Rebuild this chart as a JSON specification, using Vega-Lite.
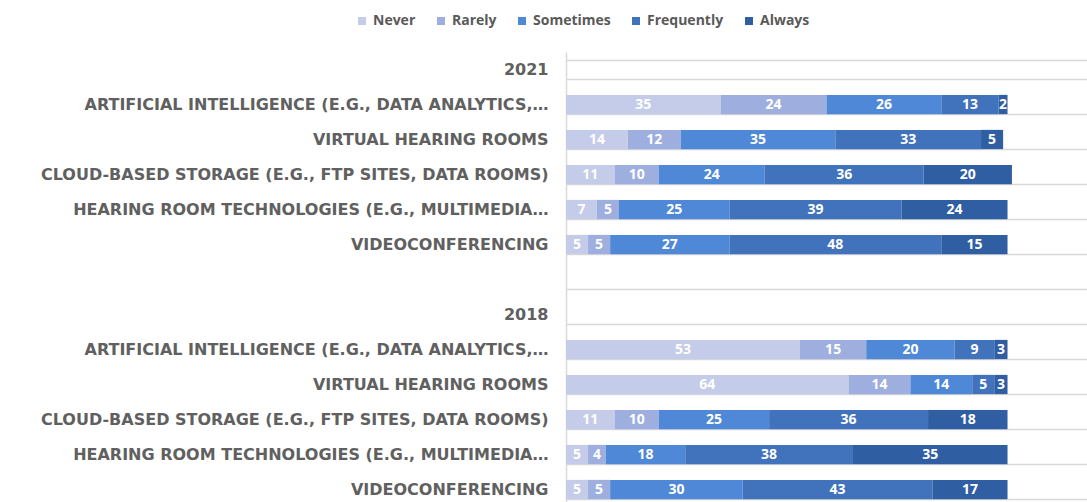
{
  "$schema": "https://vega.github.io/schema/vega-lite/v6.json",
  "width": 521,
  "height": 455,
  "autosize": {"type": "none"},
  "padding": {"left": 566, "top": 52, "right": 0, "bottom": 0},
  "background": "white",
  "config": {"view": {"stroke": null}},
  "datasets": {
    "levels": [
      {"level": "Never", "rank": 1},
      {"level": "Rarely", "rank": 2},
      {"level": "Sometimes", "rank": 3},
      {"level": "Frequently", "rank": 4},
      {"level": "Always", "rank": 5}
    ]
  },
  "data": {"values": [
    {"row": "21|ARTIFICIAL INTELLIGENCE (E.G., DATA ANALYTICS,…", "level": "Never", "v": 35},
    {"row": "21|ARTIFICIAL INTELLIGENCE (E.G., DATA ANALYTICS,…", "level": "Rarely", "v": 24},
    {"row": "21|ARTIFICIAL INTELLIGENCE (E.G., DATA ANALYTICS,…", "level": "Sometimes", "v": 26},
    {"row": "21|ARTIFICIAL INTELLIGENCE (E.G., DATA ANALYTICS,…", "level": "Frequently", "v": 13},
    {"row": "21|ARTIFICIAL INTELLIGENCE (E.G., DATA ANALYTICS,…", "level": "Always", "v": 2},
    {"row": "21|VIRTUAL HEARING ROOMS", "level": "Never", "v": 14},
    {"row": "21|VIRTUAL HEARING ROOMS", "level": "Rarely", "v": 12},
    {"row": "21|VIRTUAL HEARING ROOMS", "level": "Sometimes", "v": 35},
    {"row": "21|VIRTUAL HEARING ROOMS", "level": "Frequently", "v": 33},
    {"row": "21|VIRTUAL HEARING ROOMS", "level": "Always", "v": 5},
    {"row": "21|CLOUD-BASED STORAGE (E.G., FTP SITES, DATA ROOMS)", "level": "Never", "v": 11},
    {"row": "21|CLOUD-BASED STORAGE (E.G., FTP SITES, DATA ROOMS)", "level": "Rarely", "v": 10},
    {"row": "21|CLOUD-BASED STORAGE (E.G., FTP SITES, DATA ROOMS)", "level": "Sometimes", "v": 24},
    {"row": "21|CLOUD-BASED STORAGE (E.G., FTP SITES, DATA ROOMS)", "level": "Frequently", "v": 36},
    {"row": "21|CLOUD-BASED STORAGE (E.G., FTP SITES, DATA ROOMS)", "level": "Always", "v": 20},
    {"row": "21|HEARING ROOM TECHNOLOGIES (E.G., MULTIMEDIA…", "level": "Never", "v": 7},
    {"row": "21|HEARING ROOM TECHNOLOGIES (E.G., MULTIMEDIA…", "level": "Rarely", "v": 5},
    {"row": "21|HEARING ROOM TECHNOLOGIES (E.G., MULTIMEDIA…", "level": "Sometimes", "v": 25},
    {"row": "21|HEARING ROOM TECHNOLOGIES (E.G., MULTIMEDIA…", "level": "Frequently", "v": 39},
    {"row": "21|HEARING ROOM TECHNOLOGIES (E.G., MULTIMEDIA…", "level": "Always", "v": 24},
    {"row": "21|VIDEOCONFERENCING", "level": "Never", "v": 5},
    {"row": "21|VIDEOCONFERENCING", "level": "Rarely", "v": 5},
    {"row": "21|VIDEOCONFERENCING", "level": "Sometimes", "v": 27},
    {"row": "21|VIDEOCONFERENCING", "level": "Frequently", "v": 48},
    {"row": "21|VIDEOCONFERENCING", "level": "Always", "v": 15},
    {"row": "18|ARTIFICIAL INTELLIGENCE (E.G., DATA ANALYTICS,…", "level": "Never", "v": 53},
    {"row": "18|ARTIFICIAL INTELLIGENCE (E.G., DATA ANALYTICS,…", "level": "Rarely", "v": 15},
    {"row": "18|ARTIFICIAL INTELLIGENCE (E.G., DATA ANALYTICS,…", "level": "Sometimes", "v": 20},
    {"row": "18|ARTIFICIAL INTELLIGENCE (E.G., DATA ANALYTICS,…", "level": "Frequently", "v": 9},
    {"row": "18|ARTIFICIAL INTELLIGENCE (E.G., DATA ANALYTICS,…", "level": "Always", "v": 3},
    {"row": "18|VIRTUAL HEARING ROOMS", "level": "Never", "v": 64},
    {"row": "18|VIRTUAL HEARING ROOMS", "level": "Rarely", "v": 14},
    {"row": "18|VIRTUAL HEARING ROOMS", "level": "Sometimes", "v": 14},
    {"row": "18|VIRTUAL HEARING ROOMS", "level": "Frequently", "v": 5},
    {"row": "18|VIRTUAL HEARING ROOMS", "level": "Always", "v": 3},
    {"row": "18|CLOUD-BASED STORAGE (E.G., FTP SITES, DATA ROOMS)", "level": "Never", "v": 11},
    {"row": "18|CLOUD-BASED STORAGE (E.G., FTP SITES, DATA ROOMS)", "level": "Rarely", "v": 10},
    {"row": "18|CLOUD-BASED STORAGE (E.G., FTP SITES, DATA ROOMS)", "level": "Sometimes", "v": 25},
    {"row": "18|CLOUD-BASED STORAGE (E.G., FTP SITES, DATA ROOMS)", "level": "Frequently", "v": 36},
    {"row": "18|CLOUD-BASED STORAGE (E.G., FTP SITES, DATA ROOMS)", "level": "Always", "v": 18},
    {"row": "18|HEARING ROOM TECHNOLOGIES (E.G., MULTIMEDIA…", "level": "Never", "v": 5},
    {"row": "18|HEARING ROOM TECHNOLOGIES (E.G., MULTIMEDIA…", "level": "Rarely", "v": 4},
    {"row": "18|HEARING ROOM TECHNOLOGIES (E.G., MULTIMEDIA…", "level": "Sometimes", "v": 18},
    {"row": "18|HEARING ROOM TECHNOLOGIES (E.G., MULTIMEDIA…", "level": "Frequently", "v": 38},
    {"row": "18|HEARING ROOM TECHNOLOGIES (E.G., MULTIMEDIA…", "level": "Always", "v": 35},
    {"row": "18|VIDEOCONFERENCING", "level": "Never", "v": 5},
    {"row": "18|VIDEOCONFERENCING", "level": "Rarely", "v": 5},
    {"row": "18|VIDEOCONFERENCING", "level": "Sometimes", "v": 30},
    {"row": "18|VIDEOCONFERENCING", "level": "Frequently", "v": 43},
    {"row": "18|VIDEOCONFERENCING", "level": "Always", "v": 17}
  ]},
  "transform": [
    {"lookup": "level", "from": {"data": {"name": "levels"}, "key": "level", "fields": ["rank"]}}
  ],
  "encoding": {
    "y": {
      "field": "row", "type": "nominal",
      "scale": {
        "domain": [
          "2021",
          "21|ARTIFICIAL INTELLIGENCE (E.G., DATA ANALYTICS,…",
          "21|VIRTUAL HEARING ROOMS",
          "21|CLOUD-BASED STORAGE (E.G., FTP SITES, DATA ROOMS)",
          "21|HEARING ROOM TECHNOLOGIES (E.G., MULTIMEDIA…",
          "21|VIDEOCONFERENCING",
          "gap",
          "2018",
          "18|ARTIFICIAL INTELLIGENCE (E.G., DATA ANALYTICS,…",
          "18|VIRTUAL HEARING ROOMS",
          "18|CLOUD-BASED STORAGE (E.G., FTP SITES, DATA ROOMS)",
          "18|HEARING ROOM TECHNOLOGIES (E.G., MULTIMEDIA…",
          "18|VIDEOCONFERENCING"
        ],
        "paddingInner": 0.45, "paddingOuter": 0.225
      },
      "axis": {
        "title": null,
        "labelExpr": "datum.label == 'gap' ? '' : (indexof(datum.label, '|') >= 0 ? split(datum.label, '|')[1] : datum.label)",
        "labelFont": "DejaVu Sans",
        "labelFontWeight": "bold",
        "labelFontSize": 16,
        "labelColor": "#606060",
        "labelPadding": 18,
        "labelLimit": 600,
        "ticks": false,
        "tickBand": "extent",
        "grid": true,
        "gridColor": "#d9d9d9",
        "gridWidth": 1.5,
        "domain": true,
        "domainColor": "#d9d9d9",
        "domainWidth": 1.5
      }
    },
    "order": {"field": "rank", "type": "quantitative", "sort": "ascending"}
  },
  "layer": [
    {
      "mark": {"type": "bar"},
      "encoding": {
        "x": {"field": "v", "type": "quantitative", "stack": "zero", "scale": {"domain": [0, 118], "nice": false}, "axis": null},
        "color": {
          "field": "level", "type": "nominal",
          "sort": ["Never", "Rarely", "Sometimes", "Frequently", "Always"],
          "scale": {
            "domain": ["Never", "Rarely", "Sometimes", "Frequently", "Always"],
            "range": ["#c4cce9", "#9daedf", "#4f88d6", "#4173bd", "#305ea3"]
          },
          "legend": {
            "title": null,
            "orient": "none",
            "direction": "horizontal",
            "legendX": -211,
            "legendY": -38,
            "symbolType": "square",
            "symbolSize": 64,
            "symbolStrokeWidth": 0,
            "labelFont": "Open Sans",
            "labelFontWeight": "bold",
            "labelFontSize": 14,
            "labelColor": "#595959",
            "labelOffset": 4,
            "columnPadding": 18
          }
        }
      }
    },
    {
      "mark": {"type": "text", "color": "white", "font": "Open Sans", "fontWeight": "bold", "fontSize": 14},
      "encoding": {
        "x": {"field": "v", "type": "quantitative", "stack": "zero", "bandPosition": 0.5},
        "detail": {"field": "level", "type": "nominal"},
        "text": {"field": "v", "type": "quantitative"}
      }
    }
  ]
}
